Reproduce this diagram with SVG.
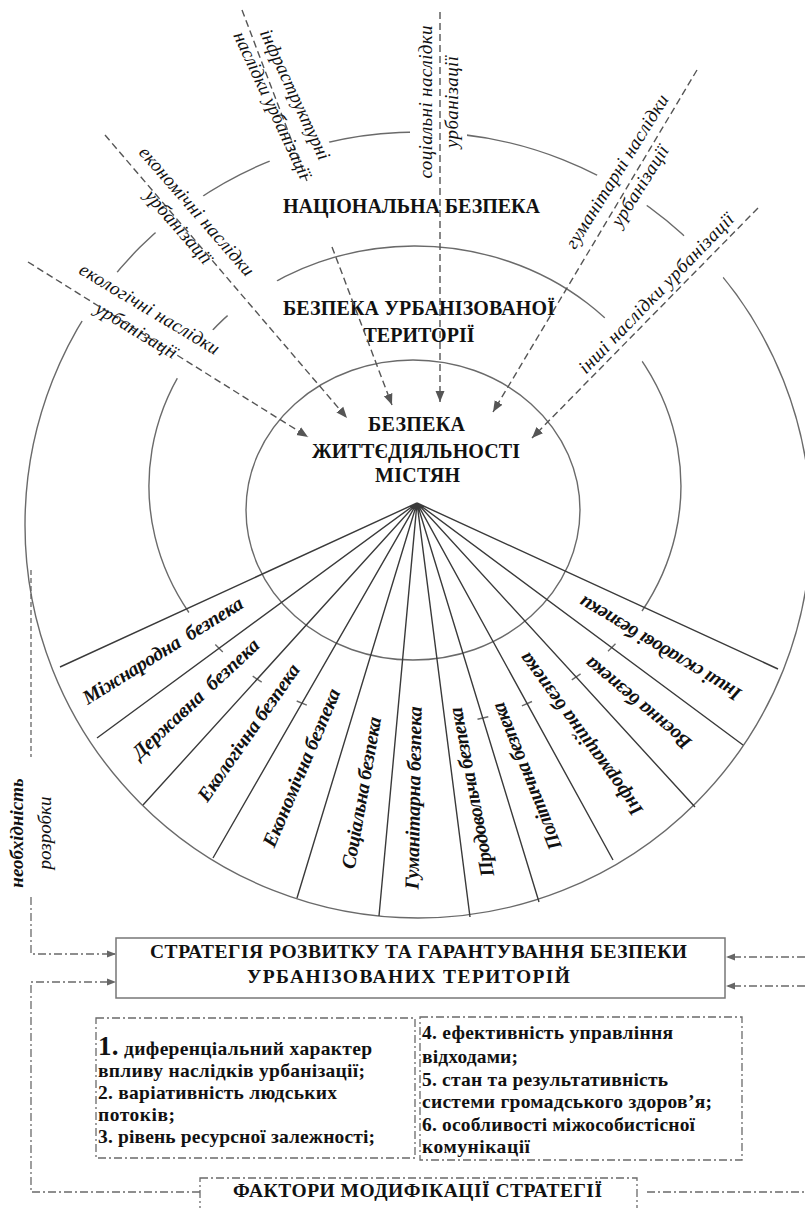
<svg xmlns="http://www.w3.org/2000/svg" width="805" height="1208" viewBox="0 0 805 1208" font-family="'Liberation Serif', Tinos, 'Times New Roman', 'DejaVu Serif', serif">
<style>
.ring{fill:none;stroke:#6a6a6a;stroke-width:1.4}
.ray{fill:none;stroke:#3a3a3a;stroke-width:1.4}
.dash{fill:none;stroke:#555;stroke-width:1.4;stroke-dasharray:7 4}
.dash2{fill:none;stroke:#666;stroke-width:1.3;stroke-dasharray:5 3}
.dd{fill:none;stroke:#6a6a6a;stroke-width:1.3;stroke-dasharray:8 3 2 3}
.t{font-family:'Liberation Serif',Tinos,'Times New Roman','DejaVu Serif',serif;fill:#111}
.title{font-weight:bold;font-size:20px;text-anchor:middle}
.lab{font-style:italic;font-size:19px;text-anchor:middle}
.sec{font-style:italic;font-weight:bold;font-size:20px;text-anchor:middle}
.nec{font-style:italic;font-size:19px;text-anchor:middle}
.fac{font-weight:bold;font-size:19.5px}
.box{fill:#fff;stroke:#777;stroke-width:1.5}
</style>
<defs>
<marker id="ah" markerUnits="userSpaceOnUse" markerWidth="12" markerHeight="10" refX="11" refY="5" orient="auto"><path d="M0,0.5 L11,5 L0,9.5 z" fill="#555"/></marker>
<marker id="ahs" markerUnits="userSpaceOnUse" markerWidth="10" markerHeight="8" refX="9" refY="4" orient="auto"><path d="M0,0.5 L9,4 L0,7.5 z" fill="#666"/></marker>
<mask id="ringMask" maskUnits="userSpaceOnUse" x="0" y="0" width="805" height="1208">
<rect x="0" y="0" width="805" height="1208" fill="#fff"/>
<g fill="#000">
<rect x="-90" y="-16" width="180" height="60" transform="translate(149 310) rotate(31)"/>
<rect x="-100" y="-16" width="210" height="60" transform="translate(196 212) rotate(49)"/>
<rect x="-85" y="-12" width="180" height="62" transform="translate(294 95) rotate(65)"/>
<rect x="-85" y="-17" width="170" height="57" transform="translate(427 102) rotate(-90)"/>
<rect x="-100" y="-16" width="200" height="58" transform="translate(618 172) rotate(-58)"/>
<rect x="-118" y="-21" width="236" height="57" transform="translate(657 294) rotate(-46)"/>
</g>
</mask>
</defs>

<g id="rings" mask="url(#ringMask)">
<circle class="ring" cx="418" cy="525" r="393"/>
<path class="ring" d="M188.9,612.5 A266,240 0 1 1 642,611"/>
<path class="ring" d="M222.8,652 L215.3,644.5 M261.7,682.1 L252.7,676.2 M306.8,705.2 L296.7,701 M488.3,716.7 L477.5,719.3 M532,701.5 L521.9,705.8 M580.6,673.8 L571.8,679.9 M615.5,643.8 L608,651.2"/>
<ellipse class="ring" cx="413" cy="510" rx="167" ry="150"/>
</g>

<g id="rays">
<path class="ray" d="M417,503 L60,667 M417,503 L97,738 M417,503 L143,805 M417,503 L213,858 M417,503 L297,898 M417,503 L379,916 M417,503 L470,917 M417,503 L539,902 M417,503 L613,860 M417,503 L695,807 M417,503 L743,745 M417,503 L778,669"/>
</g>

<g id="national-security"><text class="t title" x="411.5" y="213" textLength="257" lengthAdjust="spacing">НАЦІОНАЛЬНА БЕЗПЕКА</text></g>
<g id="urban-security">
<text class="t title" x="419" y="315" textLength="272" lengthAdjust="spacing">БЕЗПЕКА УРБАНІЗОВАНОЇ</text>
<text class="t title" x="419" y="342" textLength="111" lengthAdjust="spacing">ТЕРИТОРІЇ</text>
</g>
<g id="life-security">
<text class="t title" x="416.5" y="431" textLength="97" lengthAdjust="spacing">БЕЗПЕКА</text>
<text class="t title" x="416" y="458" textLength="208" lengthAdjust="spacing">ЖИТТЄДІЯЛЬНОСТІ</text>
<text class="t title" x="417.5" y="482" textLength="85" lengthAdjust="spacing">МІСТЯН</text>
</g>

<g id="connectors">
<path class="dash" d="M28,262 L308,437" marker-end="url(#ah)"/>
<path class="dash" d="M105,135 L347,418" marker-end="url(#ah)"/>
<path class="dash" d="M242,10 L307.3,182"/>
<path class="dash" d="M332,247 L392,405" marker-end="url(#ah)"/>
<path class="dash" d="M440,12 L440,402" marker-end="url(#ah)"/>
<path class="dash" d="M697,70 L493,412" marker-end="url(#ah)"/>
<path class="dash" d="M758,208 L532,438" marker-end="url(#ah)"/>
<path class="dash2" d="M31,570 L31,757"/>
<path class="dd" d="M31,897 L31,954 L116,954" marker-end="url(#ahs)"/>
<path class="dd" d="M200,1192 L31,1192 L31,982 L116,982" marker-end="url(#ahs)"/>
<path class="dd" d="M805,957 L726,957" marker-end="url(#ahs)"/>
<path class="dd" d="M805,986 L726,986" marker-end="url(#ahs)"/>
<path class="dd" d="M647,1192 L805,1192"/>
</g>

<g id="label-ecological" transform="translate(149 310) rotate(31)">
<text class="t lab" y="5" textLength="160" lengthAdjust="spacing">екологічні наслідки</text>
<text class="t lab" y="30" textLength="92" lengthAdjust="spacing">урбанізації</text>
</g>
<g id="label-economic" transform="translate(196 212) rotate(49)">
<text class="t lab" y="5" textLength="165" lengthAdjust="spacing">економічні наслідки</text>
<text class="t lab" y="29" textLength="92" lengthAdjust="spacing">урбанізації</text>
</g>
<g id="label-infrastructure" transform="translate(294 95) rotate(65)">
<text class="t lab" y="5" textLength="142" lengthAdjust="spacing">інфраструктурні</text>
<text class="t lab" y="30" textLength="160" lengthAdjust="spacing">наслідки урбанізації</text>
</g>
<g id="label-social" transform="translate(427 102) rotate(-90)">
<text class="t lab" y="5" textLength="153" lengthAdjust="spacing">соціальні наслідки</text>
<text class="t lab" y="31" textLength="92" lengthAdjust="spacing">урбанізації</text>
</g>
<g id="label-humanitarian" transform="translate(618 172) rotate(-58)">
<text class="t lab" y="5" textLength="178" lengthAdjust="spacing">гуманітарні наслідки</text>
<text class="t lab" y="32" textLength="92" lengthAdjust="spacing">урбанізації</text>
</g>
<g id="label-other" transform="translate(657 294) rotate(-46)">
<text class="t lab" y="5" textLength="215" lengthAdjust="spacing">інші наслідки урбанізації</text>
</g>

<g id="sector-international" transform="translate(163 651) rotate(-32)"><text class="t sec" y="6" textLength="185" lengthAdjust="spacing">Міжнародна&#160; безпека</text></g>
<g id="sector-state" transform="translate(196 699) rotate(-43)"><text class="t sec" y="6" textLength="166" lengthAdjust="spacing">Державна&#160; безпека</text></g>
<g id="sector-ecological" transform="translate(249 733) rotate(-55)"><text class="t sec" y="6" textLength="163" lengthAdjust="spacing">Екологічна безпека</text></g>
<g id="sector-economic" transform="translate(302 768) rotate(-67)"><text class="t sec" y="6" textLength="170" lengthAdjust="spacing">Економічна безпека</text></g>
<g id="sector-social" transform="translate(362 793) rotate(-80)"><text class="t sec" y="6" textLength="154" lengthAdjust="spacing">Соціальна безпека</text></g>
<g id="sector-humanitarian" transform="translate(414 798) rotate(-89)"><text class="t sec" y="6" textLength="183" lengthAdjust="spacing">Гуманітарна безпека</text></g>
<g id="sector-food" transform="translate(472 792) rotate(-101)"><text class="t sec" y="6" textLength="172" lengthAdjust="spacing">Продовольча безпека</text></g>
<g id="sector-political" transform="translate(527 776) rotate(-112)"><text class="t sec" y="6" textLength="157" lengthAdjust="spacing">Політична безпека</text></g>
<g id="sector-information" transform="translate(581 734) rotate(-126)"><text class="t sec" y="6" textLength="196" lengthAdjust="spacing">Інформаційна безпека</text></g>
<g id="sector-military" transform="translate(638 703) rotate(-140)"><text class="t sec" y="6" textLength="132" lengthAdjust="spacing">Воєнна безпека</text></g>
<g id="sector-other" transform="translate(660 648) rotate(-149)"><text class="t sec" y="6" textLength="185" lengthAdjust="spacing">Інші складові безпеки</text></g>

<g id="label-necessity" transform="translate(17 833) rotate(-90)">
<text class="t nec" y="6" font-weight="bold">необхідність</text>
<text class="t nec" y="34">розробки</text>
</g>

<g id="strategy">
<rect class="box" x="116" y="938" width="609" height="60"/>
<text class="t fac" x="150" y="958" font-size="21" textLength="537" lengthAdjust="spacing">СТРАТЕГІЯ РОЗВИТКУ ТА ГАРАНТУВАННЯ БЕЗПЕКИ</text>
<text class="t fac" x="247" y="983" font-size="21" textLength="323" lengthAdjust="spacing">УРБАНІЗОВАНИХ ТЕРИТОРІЙ</text>
</g>

<g id="factors-left">
<rect class="dd" x="96" y="1018" width="319" height="140"/>
<text class="t fac" x="98" y="1055" textLength="274" lengthAdjust="spacing"><tspan font-size="27">1.</tspan> диференціальний характер</text>
<text class="t fac" x="98" y="1077" textLength="267" lengthAdjust="spacing">впливу наслідків урбанізації;</text>
<text class="t fac" x="98" y="1099" textLength="239" lengthAdjust="spacing">2. варіативність людських</text>
<text class="t fac" x="98" y="1121" textLength="77" lengthAdjust="spacing">потоків;</text>
<text class="t fac" x="98" y="1143" textLength="277" lengthAdjust="spacing">3. рівень ресурсної залежності;</text>
</g>

<g id="factors-right">
<rect class="dd" x="420" y="1017" width="322" height="143"/>
<text class="t fac" x="422" y="1039" textLength="251" lengthAdjust="spacing">4. ефективність управління</text>
<text class="t fac" x="422" y="1063" textLength="96" lengthAdjust="spacing">відходами;</text>
<text class="t fac" x="422" y="1086" textLength="246" lengthAdjust="spacing">5. стан та результативність</text>
<text class="t fac" x="422" y="1108" textLength="290" lengthAdjust="spacing">системи громадського здоров’я;</text>
<text class="t fac" x="422" y="1131" textLength="273" lengthAdjust="spacing">6. особливості міжособистісної</text>
<text class="t fac" x="422" y="1153" textLength="108" lengthAdjust="spacing">комунікації</text>
</g>

<g id="modification-factors">
<rect class="dd" x="200" y="1178" width="437" height="45"/>
<text class="t fac" x="233" y="1197" font-size="21" textLength="369" lengthAdjust="spacing">ФАКТОРИ МОДИФІКАЦІЇ СТРАТЕГІЇ</text>
</g>
</svg>
